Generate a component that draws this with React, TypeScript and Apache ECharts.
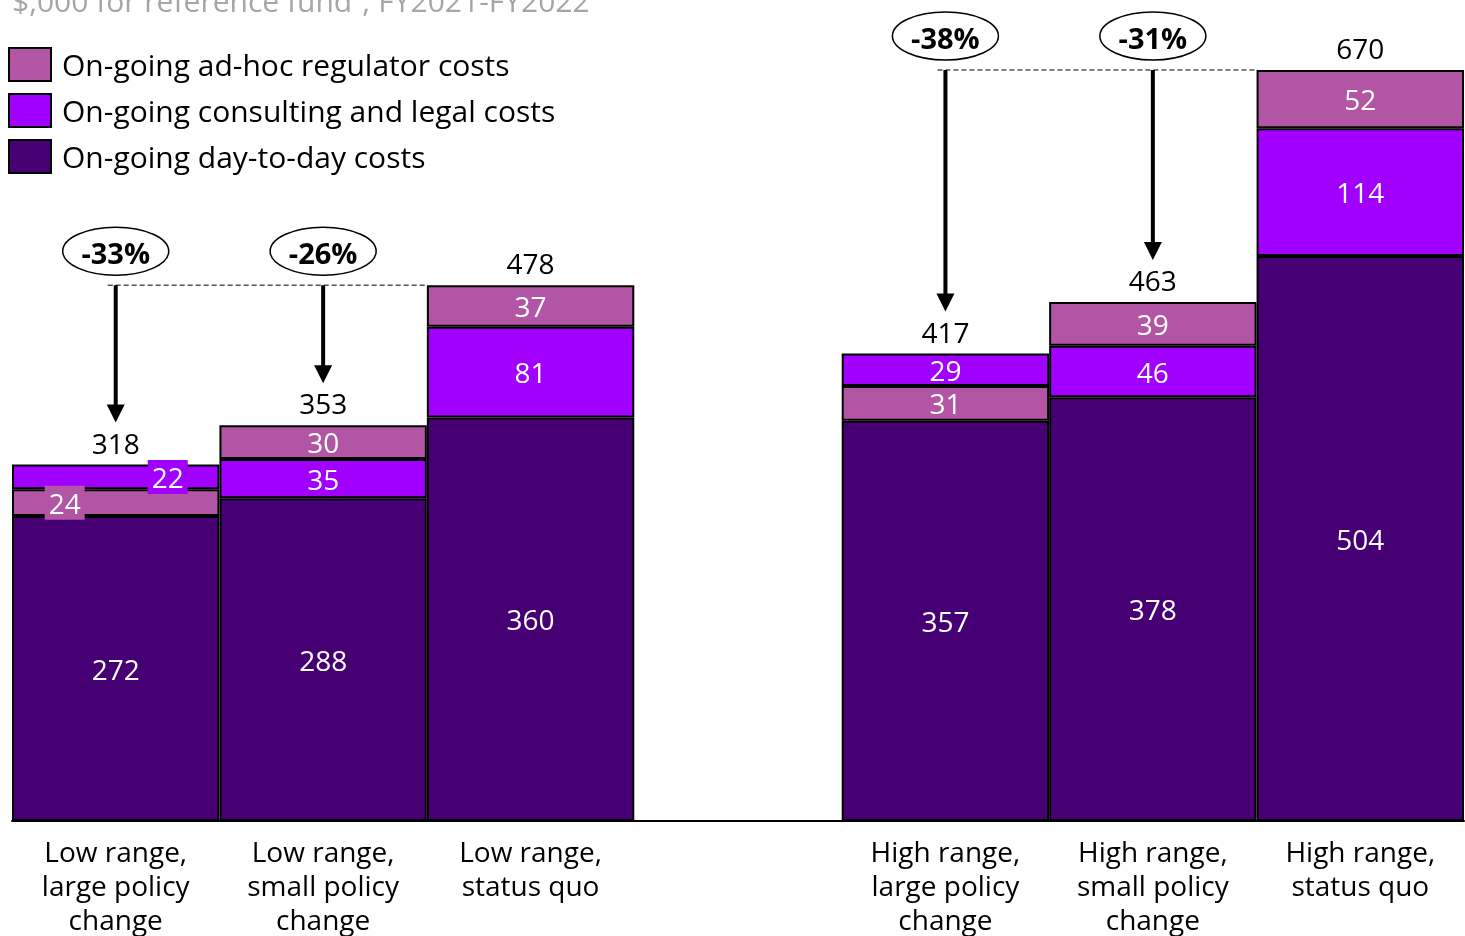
import React, { useEffect, useRef } from "react";
import * as echarts from "echarts";

const categories = [
  "Low range,\nlarge policy\nchange",
  "Low range,\nsmall policy\nchange",
  "Low range,\nstatus quo",
  "",
  "High range,\nlarge policy\nchange",
  "High range,\nsmall policy\nchange",
  "High range,\nstatus quo",
];
const dayToDay = [272, 288, 360, null, 357, 378, 504];
const adhocBelow = [24, null, null, null, 31, null, null];
const consulting = [22, 35, 81, null, 29, 46, 114];
const adhocAbove = [null, 30, 37, null, null, 39, 52];
const totals = [318, 353, 478, null, 417, 463, 670];
const reductions = [
  { from: 0, to: 2, label: "-33%" },
  { from: 1, to: 2, label: "-26%" },
  { from: 4, to: 6, label: "-38%" },
  { from: 5, to: 6, label: "-31%" },
];
const legendNames = [
  "On-going ad-hoc regulator costs",
  "On-going consulting and legal costs",
  "On-going day-to-day costs",
];
const subtitle = "$,000 for reference fund\u00B9; FY2021-FY2022";

const PINK = "#B355A5";
const VIOLET = "#A100FF";
const DARK = "#460073";
const FONT = "'Open Sans', sans-serif";

const dash = (arr: (number | null)[]) => arr.map((v) => (v == null ? "-" : v));

export default function App() {
  const ref = useRef<HTMLDivElement>(null);
  useEffect(() => {
    if (!ref.current) return;
    const chart = echarts.init(ref.current, null, { renderer: "svg" });
    const segLabel = {
      show: true,
      position: "inside",
      color: "#fff",
      fontSize: 28,
      fontFamily: FONT,
    };
    const itemStyle = (c: string) => ({ color: c, borderColor: "#000", borderWidth: 2 });
    chart.setOption({
      animation: false,
      textStyle: { fontFamily: FONT },
      legend: {
        data: legendNames,
        orient: "vertical",
        left: 8,
        top: 47,
        padding: 0,
        itemWidth: 42,
        itemHeight: 33,
        itemGap: 11,
        icon: "rect",
        selectedMode: false,
        itemStyle: { borderColor: "#000", borderWidth: 2 },
        textStyle: {
          fontSize: 30,
          lineHeight: 33,
          color: "#000",
          fontFamily: FONT,
          padding: [0, 0, 0, 6],
        },
      },
      grid: { left: 12, right: 1, top: 70, bottom: 113, containLabel: false },
      xAxis: {
        type: "category",
        data: categories,
        axisLine: { lineStyle: { color: "#000", width: 2 } },
        axisTick: { show: false },
        axisLabel: {
          color: "#000",
          fontSize: 28,
          lineHeight: 34,
          margin: 13,
          interval: 0,
          fontFamily: FONT,
        },
      },
      yAxis: { type: "value", min: 0, max: 670, show: false, splitLine: { show: false } },
      series: [
        {
          name: legendNames[2],
          type: "bar",
          stack: "s",
          barCategoryGap: "0%",
          data: dash(dayToDay),
          itemStyle: itemStyle(DARK),
          label: segLabel,
        },
        {
          name: legendNames[0],
          type: "bar",
          stack: "s",
          data: dash(adhocBelow).map((v, i) =>
            i === 0
              ? { value: v, label: { offset: [-51, 0], backgroundColor: PINK, padding: [3, 4, 3, 4] } }
              : v
          ),
          itemStyle: itemStyle(PINK),
          label: segLabel,
        },
        {
          name: legendNames[1],
          type: "bar",
          stack: "s",
          data: dash(consulting).map((v, i) =>
            i === 0
              ? { value: v, label: { offset: [52, 0], backgroundColor: VIOLET, padding: [3, 4, 3, 4] } }
              : v
          ),
          itemStyle: itemStyle(VIOLET),
          label: segLabel,
        },
        {
          name: legendNames[0],
          type: "bar",
          stack: "s",
          data: dash(adhocAbove),
          itemStyle: itemStyle(PINK),
          label: segLabel,
        },
        {
          name: "Total",
          type: "bar",
          stack: "s",
          data: totals.map((v) => (v == null ? "-" : 0)),
          itemStyle: { color: "transparent", borderWidth: 0 },
          label: {
            show: true,
            position: "top",
            distance: 8,
            color: "#000",
            fontSize: 28,
            fontFamily: FONT,
            formatter: (p: any) => String(totals[p.dataIndex]),
          },
        },
      ],
    });

    const px = (i: number, v: number) => chart.convertToPixel({ gridIndex: 0 }, [i, v]) as number[];
    const bw = px(1, 0)[0] - px(0, 0)[0];
    const graphic: any[] = [
      {
        type: "text",
        x: 12,
        y: 0,
        style: {
          text: subtitle,
          fontSize: 30,
          fontFamily: FONT,
          fill: "#A6A6A6",
          align: "left",
          verticalAlign: "middle",
        },
      },
    ];
    const groups = Array.from(new Set(reductions.map((r) => r.to)));
    groups.forEach((to) => {
      const refPt = px(to, totals[to] as number);
      const fromX = Math.min(...reductions.filter((r) => r.to === to).map((r) => px(r.from, 0)[0]));
      graphic.push({
        type: "line",
        shape: { x1: fromX - 8, y1: refPt[1], x2: refPt[0] - bw / 2, y2: refPt[1] },
        style: { stroke: "#555", lineWidth: 1.5, lineDash: [5, 3] },
        z: 10,
      });
    });
    reductions.forEach((r) => {
      const refY = px(r.to, totals[r.to] as number)[1];
      const p = px(r.from, totals[r.from] as number);
      const x = p[0];
      const tip = p[1] - 42;
      graphic.push({
        type: "line",
        shape: { x1: x, y1: refY, x2: x, y2: tip - 16 },
        style: { stroke: "#000", lineWidth: 4 },
        z: 10,
      });
      graphic.push({
        type: "polygon",
        shape: { points: [[x - 9, tip - 18], [x + 9, tip - 18], [x, tip]] },
        style: { fill: "#000" },
        z: 10,
      });
      graphic.push({
        type: "ellipse",
        shape: { cx: x, cy: refY - 34, rx: 53, ry: 24 },
        style: { fill: "#fff", stroke: "#000", lineWidth: 1.5 },
        z: 10,
      });
      graphic.push({
        type: "text",
        x: x,
        y: refY - 33,
        style: {
          text: r.label,
          fontSize: 29,
          fontWeight: "bold",
          fontFamily: FONT,
          fill: "#000",
          align: "center",
          verticalAlign: "middle",
        },
        z: 11,
      });
    });
    chart.setOption({ graphic });
    return () => chart.dispose();
  }, []);
  return (
    <div
      ref={ref}
      style={{ position: "fixed", left: 0, top: 0, width: 1465, height: 936 }}
    />
  );
}
